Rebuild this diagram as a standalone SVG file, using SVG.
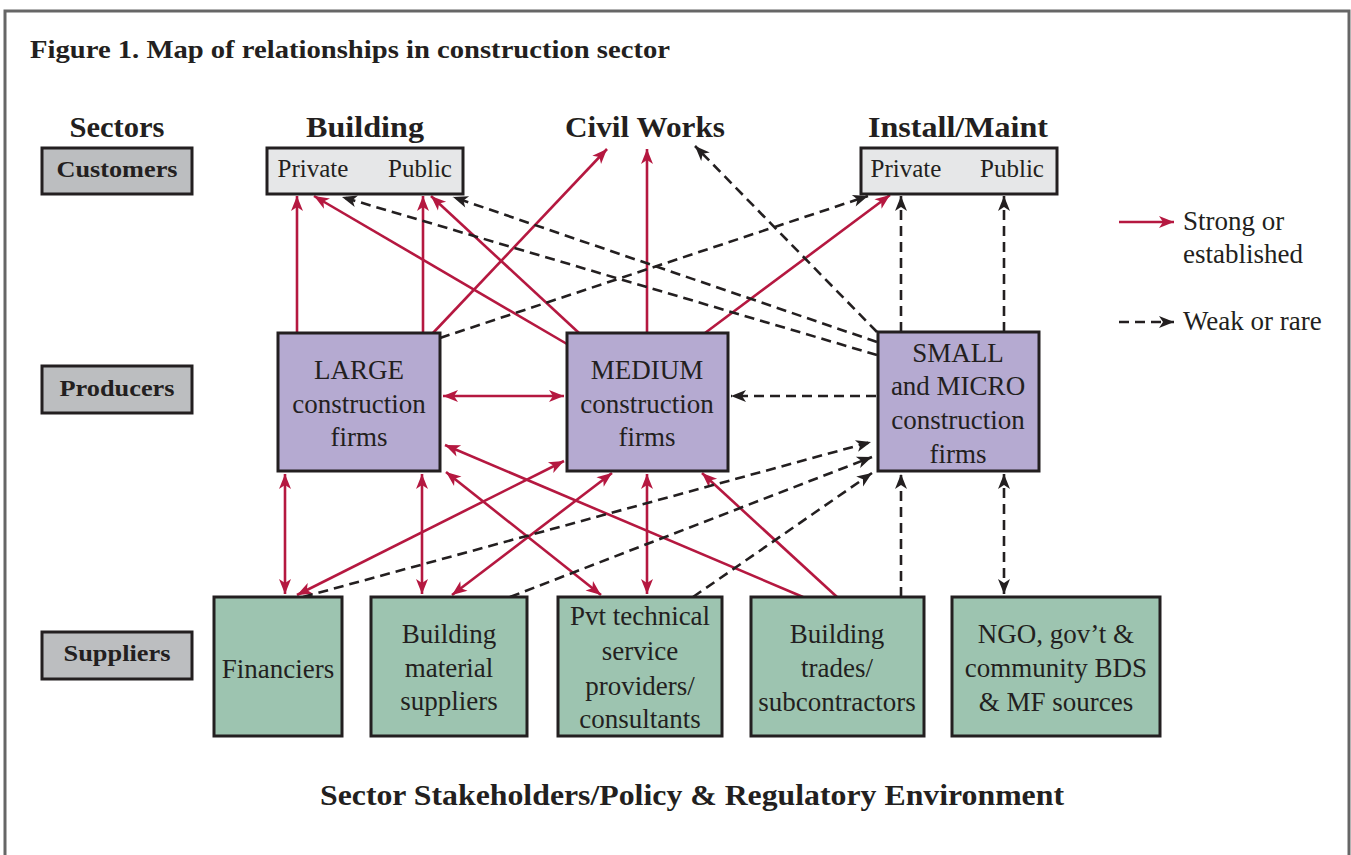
<svg xmlns="http://www.w3.org/2000/svg" width="1351" height="855" viewBox="0 0 1351 855">
<style>
.t{font-family:"Liberation Serif",serif;fill:#231f20;text-anchor:middle}
.b{font-weight:bold}
.r{font-size:27px}
.c{font-size:25px}
.h{font-size:30px;font-weight:bold}
.lab{fill:#bcbec0;stroke:#231f20;stroke-width:3}
.cust{fill:#e6e7e8;stroke:#231f20;stroke-width:3}
.prod{fill:#b5aad1;stroke:#231f20;stroke-width:3}
.sup{fill:#9dc4b0;stroke:#231f20;stroke-width:3}
.s{stroke:#b51840;stroke-width:2.6;fill:none}
.w{stroke:#231f20;stroke-width:2.6;fill:none;stroke-dasharray:10 6}
.s1{marker-end:url(#ar)}
.s2{marker-end:url(#ar);marker-start:url(#ar)}
.w1{marker-end:url(#ak)}
.w2{marker-end:url(#ak);marker-start:url(#ak)}
</style>
<defs>
<marker id="ar" markerUnits="userSpaceOnUse" markerWidth="17" markerHeight="15" viewBox="0 0 17 15" refX="16" refY="7.5" orient="auto-start-reverse">
<path d="M1,1.5 L16,7.5 L1,13.5 L5,7.5 z" fill="#b51840"/>
</marker>
<marker id="ak" markerUnits="userSpaceOnUse" markerWidth="17" markerHeight="15" viewBox="0 0 17 15" refX="16" refY="7.5" orient="auto-start-reverse">
<path d="M1,1.5 L16,7.5 L1,13.5 L5,7.5 z" fill="#231f20"/>
</marker>
</defs>
<rect x="0" y="0" width="1351" height="855" fill="#fff"/>
<rect x="5" y="11" width="1344" height="900" fill="none" stroke="#666" stroke-width="3"/>
<text class="t b" x="30" y="58" style="text-anchor:start;font-size:26px" textLength="640" lengthAdjust="spacingAndGlyphs">Figure 1.  Map of relationships in construction sector</text>

<g id="headers">
<text class="t h" x="117" y="137" textLength="95" lengthAdjust="spacingAndGlyphs">Sectors</text>
<text class="t h" x="365" y="137" textLength="118" lengthAdjust="spacingAndGlyphs">Building</text>
<text class="t h" x="645" y="137" textLength="160" lengthAdjust="spacingAndGlyphs">Civil Works</text>
<text class="t h" x="958" y="137" textLength="180" lengthAdjust="spacingAndGlyphs">Install/Maint</text>
</g>

<g id="label-customers"><rect class="lab" x="42" y="148" width="150" height="46"/><text class="t b" x="117" y="177" style="font-size:24px" textLength="121" lengthAdjust="spacingAndGlyphs">Customers</text></g>
<g id="label-producers"><rect class="lab" x="42" y="366" width="150" height="47"/><text class="t b" x="117" y="396" style="font-size:24px" textLength="115" lengthAdjust="spacingAndGlyphs">Producers</text></g>
<g id="label-suppliers"><rect class="lab" x="42" y="632" width="150" height="47"/><text class="t b" x="117" y="661" style="font-size:24px" textLength="107" lengthAdjust="spacingAndGlyphs">Suppliers</text></g>

<g id="connectors">
<line class="s s1" x1="297" y1="333" x2="297" y2="196"/>
<line class="s s1" x1="423" y1="333" x2="423" y2="196"/>
<line class="s s1" x1="433" y1="333" x2="607" y2="149"/>
<line class="s s1" x1="567" y1="344" x2="314" y2="196"/>
<line class="s s1" x1="579" y1="333" x2="431" y2="196"/>
<line class="s s1" x1="647" y1="333" x2="647" y2="149"/>
<line class="s s1" x1="705" y1="333" x2="890" y2="195"/>
<line class="s s2" x1="443" y1="396" x2="564" y2="396"/>
<line class="s s2" x1="285" y1="474" x2="285" y2="594"/>
<line class="s s2" x1="422" y1="474" x2="422" y2="594"/>
<line class="s s2" x1="297" y1="595" x2="564" y2="461"/>
<line class="s s2" x1="452" y1="595" x2="612" y2="473"/>
<line class="s s2" x1="446" y1="472" x2="601" y2="595"/>
<line class="s s2" x1="647" y1="474" x2="647" y2="594"/>
<line class="s s1" x1="803" y1="597" x2="445" y2="445"/>
<line class="s s1" x1="837" y1="597" x2="702" y2="473"/>

<line class="w w1" x1="440" y1="338" x2="868" y2="196"/>
<line class="w w1" x1="877" y1="342" x2="453" y2="197"/>
<line class="w w1" x1="877" y1="355" x2="342" y2="197"/>
<line class="w w1" x1="877" y1="332" x2="695" y2="146"/>
<line class="w w1" x1="901" y1="332" x2="901" y2="196"/>
<line class="w w1" x1="1004" y1="332" x2="1004" y2="196"/>
<line class="w w1" x1="876" y1="396" x2="731" y2="396"/>
<line class="w w1" x1="303" y1="597" x2="871" y2="442"/>
<line class="w w1" x1="510" y1="597" x2="872" y2="457"/>
<line class="w w1" x1="693" y1="597" x2="872" y2="473"/>
<line class="w w1" x1="901" y1="597" x2="901" y2="474"/>
<line class="w w2" x1="1004" y1="594" x2="1004" y2="474"/>
</g>

<g id="cust-building"><rect class="cust" x="267" y="148" width="196" height="46"/>
<text class="t c" x="313" y="177">Private</text><text class="t c" x="420" y="177">Public</text></g>
<g id="cust-install"><rect class="cust" x="861" y="148" width="196" height="46"/>
<text class="t c" x="906" y="177">Private</text><text class="t c" x="1012" y="177">Public</text></g>

<g id="large"><rect class="prod" x="278" y="333" width="162" height="138"/>
<text class="t r" x="359" y="379">LARGE</text><text class="t r" x="359" y="413">construction</text><text class="t r" x="359" y="446">firms</text></g>
<g id="medium"><rect class="prod" x="567" y="333" width="161" height="138"/>
<text class="t r" x="647" y="379">MEDIUM</text><text class="t r" x="647" y="413">construction</text><text class="t r" x="647" y="446">firms</text></g>
<g id="small"><rect class="prod" x="878" y="332" width="161" height="139"/>
<text class="t r" x="958" y="362">SMALL</text><text class="t r" x="958" y="395">and MICRO</text><text class="t r" x="958" y="429">construction</text><text class="t r" x="958" y="463">firms</text></g>

<g id="financiers"><rect class="sup" x="214" y="597" width="128" height="139"/>
<text class="t r" x="278" y="678">Financiers</text></g>
<g id="material"><rect class="sup" x="371" y="597" width="156" height="139"/>
<text class="t r" x="449" y="643">Building</text><text class="t r" x="449" y="677">material</text><text class="t r" x="449" y="710">suppliers</text></g>
<g id="technical"><rect class="sup" x="558" y="597" width="164" height="139"/>
<text class="t r" x="640" y="625">Pvt technical</text><text class="t r" x="640" y="660">service</text><text class="t r" x="640" y="695">providers/</text><text class="t r" x="640" y="728">consultants</text></g>
<g id="trades"><rect class="sup" x="751" y="597" width="173" height="139"/>
<text class="t r" x="837" y="643">Building</text><text class="t r" x="837" y="677">trades/</text><text class="t r" x="837" y="711">subcontractors</text></g>
<g id="ngo"><rect class="sup" x="952" y="597" width="208" height="139"/>
<text class="t r" x="1056" y="643">NGO, gov’t &amp;</text><text class="t r" x="1056" y="677">community BDS</text><text class="t r" x="1056" y="711">&amp; MF sources</text></g>

<g id="legend">
<line class="s s1" x1="1119" y1="222" x2="1174" y2="222"/>
<text class="t r" x="1183" y="230" style="text-anchor:start">Strong or</text>
<text class="t r" x="1183" y="263" style="text-anchor:start">established</text>
<line class="w w1" x1="1119" y1="322" x2="1174" y2="322"/>
<text class="t r" x="1183" y="330" style="text-anchor:start">Weak or rare</text>
</g>

<text class="t h" x="692" y="805" textLength="744" lengthAdjust="spacingAndGlyphs">Sector Stakeholders/Policy &amp; Regulatory Environment</text>
</svg>
